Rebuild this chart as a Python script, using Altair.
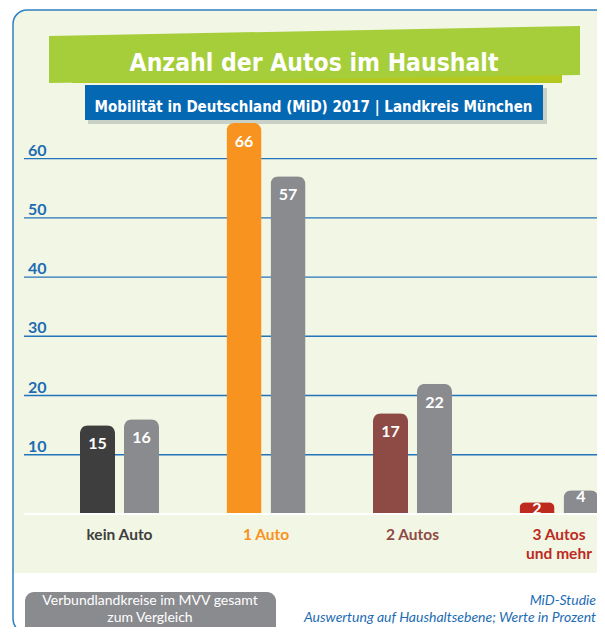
import altair as alt
import pandas as pd

# ---------------- data ----------------
categories = ["kein Auto", "1 Auto", "2 Autos", "3 Autos und mehr"]
category_lines = [["kein Auto"], ["1 Auto"], ["2 Autos"], ["3 Autos", "und mehr"]]
series = ["Landkreis München", "Verbundlandkreise im MVV gesamt"]
lk_muenchen = [15, 66, 17, 2]
mvv_gesamt = [16, 57, 22, 4]
y_ticks = [10, 20, 30, 40, 50, 60]

title_text = "Anzahl der Autos im Haushalt"
subtitle_text = "Mobilität in Deutschland (MiD) 2017 | Landkreis München"
legend_lines = ["Verbundlandkreise im MVV gesamt", "zum Vergleich"]
source_lines = ["MiD-Studie", "Auswertung auf Haushaltsebene; Werte in Prozent"]

# ---------------- styles ----------------
main_colors = ["#3E3E3E", "#F7931E", "#8E4A45", "#BD2A1E"]
compare_color = "#8A8B8F"
bg_green = "#F2F6E4"
frame_blue = "#2F7FC1"
grid_blue = "#2374BB"
label_blue = "#1C6CB4"
cond_font = "Liberation Sans Narrow, DejaVu Sans Condensed, sans-serif"
body_font = "Lato, Open Sans, sans-serif"

rows = []
for i, c in enumerate(categories):
    rows.append({"cat": c, "series": series[0], "value": lk_muenchen[i], "color": main_colors[i]})
    rows.append({"cat": c, "series": series[1], "value": mvv_gesamt[i], "color": compare_color})
bars_df = pd.DataFrame(rows)

cat_rows = []
for i, c in enumerate(categories):
    for j, line in enumerate(category_lines[i]):
        cat_rows.append({"cat": c, "line": j, "label": line, "color": main_colors[i]})
cat_df = pd.DataFrame(cat_rows)

tick_df = pd.DataFrame({"v": y_ticks})
one = pd.DataFrame({"d": [0]})
zero_df = pd.DataFrame({"v": [0]})
# slightly tilted title banner (decoration, pixel space)
banner_df = pd.DataFrame({"px": [41, 572], "top": [28, 18], "bot": [75, 67]})

x_enc = alt.X("cat:N", sort=categories, axis=None,
              scale=alt.Scale(domain=categories, range=[38.25, 624.25],
                              paddingInner=0, paddingOuter=0))
xo_enc = alt.XOffset("series:N", sort=series,
                     scale=alt.Scale(domain=series, paddingInner=0.2045, paddingOuter=0.767))
y_scale = alt.Scale(domain=[0, 66], range=[506, 115], nice=False, zero=True)

# ---------------- decoration ----------------
bg = alt.Chart(one).mark_rect(fill=bg_green, cornerRadiusTopLeft=14).encode(
    x=alt.value(5), x2=alt.value(720), y=alt.value(2), y2=alt.value(565))
frame = alt.Chart(one).mark_rect(fill="transparent", stroke=frame_blue, strokeWidth=1.5,
                                 cornerRadius=14).encode(
    x=alt.value(5), x2=alt.value(720), y=alt.value(2), y2=alt.value(625))
banner = alt.Chart(banner_df).mark_area(fill="#A6CE3A", interpolate="linear").encode(
    x=alt.X("px:Q", scale=None, axis=None),
    y=alt.Y("top:Q", scale=None, axis=None),
    y2="bot:Q")
strip = alt.Chart(one).mark_rect(fill="#B5C81E").encode(
    x=alt.value(64), x2=alt.value(554), y=alt.value(62), y2=alt.value(75))
sub_shadow = alt.Chart(one).mark_rect(fill="#7F8A8C", opacity=0.35).encode(
    x=alt.value(80), x2=alt.value(539), y=alt.value(80), y2=alt.value(116))
sub_box = alt.Chart(one).mark_rect(fill="#0568B3").encode(
    x=alt.value(77), x2=alt.value(535), y=alt.value(77), y2=alt.value(112))
title = alt.Chart(one).mark_text(text=title_text, font=cond_font, fontWeight="bold",
                                 fontSize=24.5, color="white", baseline="alphabetic").encode(
    x=alt.value(306), y=alt.value(63))
subtitle = alt.Chart(one).mark_text(text=subtitle_text, font=cond_font, fontWeight="bold",
                                    fontSize=15, color="white", baseline="alphabetic").encode(
    x=alt.value(305.5), y=alt.value(104))

# ---------------- grid + ticks ----------------
grid = alt.Chart(tick_df).mark_rule(color=grid_blue, strokeWidth=1.3).encode(
    y=alt.Y("v:Q", scale=y_scale, axis=None), x=alt.value(16), x2=alt.value(720))
tick_labels = alt.Chart(tick_df).mark_text(font=body_font, fontWeight="bold", fontSize=16,
                                           color=label_blue, align="left",
                                           baseline="alphabetic", dy=-3).encode(
    y=alt.Y("v:Q", scale=y_scale, axis=None), x=alt.value(20), text="v:Q")

# ---------------- bars ----------------
base = alt.Chart(bars_df).encode(
    x=x_enc, xOffset=xo_enc,
    y=alt.Y("value:Q", scale=y_scale, axis=None))
bars = base.mark_bar(cornerRadiusTopLeft=8, cornerRadiusTopRight=8).encode(
    color=alt.Color("color:N", scale=None))
vals_big = base.transform_filter("datum.value >= 10").mark_text(
    font=body_font, fontWeight="bold", fontSize=16, color="white", baseline="middle", dy=19
).encode(text="value:Q")
vals_small = base.transform_filter("datum.value < 10").mark_text(
    font=body_font, fontWeight="bold", fontSize=16, color="white", baseline="middle", dy=7
).encode(text="value:Q")

mask = alt.Chart(one).mark_rect(fill=bg_green).encode(
    x=alt.value(16), x2=alt.value(720), y=alt.value(507), y2=alt.value(564))
baseline = alt.Chart(zero_df).mark_rule(color="#FFFFFF", strokeWidth=2).encode(
    y=alt.Y("v:Q", scale=y_scale, axis=None), x=alt.value(16), x2=alt.value(720))

cat_base = alt.Chart(cat_df).mark_text(font=body_font, fontWeight="bold", fontSize=15.5,
                                       baseline="middle")
cat_line1 = cat_base.transform_filter("datum.line == 0").encode(
    x=x_enc, y=alt.value(527), text="label:N", color=alt.Color("color:N", scale=None))
cat_line2 = cat_base.transform_filter("datum.line == 1").encode(
    x=x_enc, y=alt.value(545.5), text="label:N", color=alt.Color("color:N", scale=None))

# ---------------- footer ----------------
legend_box = alt.Chart(one).mark_rect(fill=compare_color, cornerRadius=9).encode(
    x=alt.value(17), x2=alt.value(268), y=alt.value(584), y2=alt.value(650))
legend_1 = alt.Chart(one).mark_text(text=legend_lines[0], font=body_font, fontSize=14,
                                    color="white", baseline="middle").encode(
    x=alt.value(142), y=alt.value(593))
legend_2 = alt.Chart(one).mark_text(text=legend_lines[1], font=body_font, fontSize=14,
                                    color="white", baseline="middle").encode(
    x=alt.value(142), y=alt.value(610))
source_1 = alt.Chart(one).mark_text(text=source_lines[0], font=body_font, fontSize=14,
                                    fontStyle="italic", color=label_blue, align="right",
                                    baseline="middle").encode(
    x=alt.value(588), y=alt.value(593))
source_2 = alt.Chart(one).mark_text(text=source_lines[1], font=body_font, fontSize=14,
                                    fontStyle="italic", color=label_blue, align="right",
                                    baseline="middle").encode(
    x=alt.value(588), y=alt.value(610))

chart = alt.layer(
    bg, frame, strip, banner, sub_shadow, sub_box, title, subtitle,
    grid, tick_labels, bars, vals_big, vals_small, mask, baseline, cat_line1, cat_line2,
    legend_box, legend_1, legend_2, source_1, source_2
).resolve_scale(x="independent", y="independent").properties(
    width=589, height=619, padding=0,
    autosize=alt.AutoSizeParams(type="none"),
    background="white",
).configure_view(strokeWidth=0)

chart.save("out.html", embed_options={"renderer": "svg", "actions": False})
